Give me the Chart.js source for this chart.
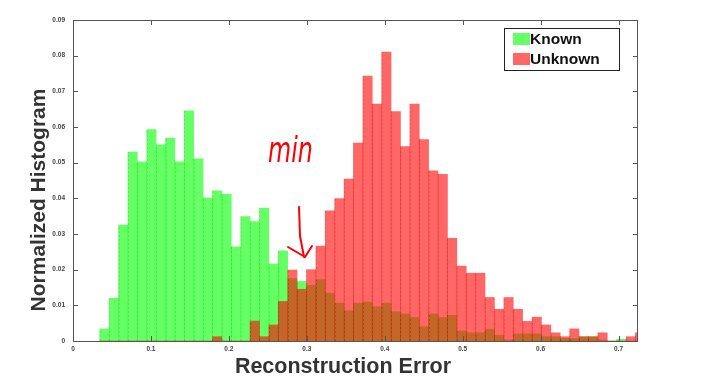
<!DOCTYPE html>
<html lang="en">
<head>
<meta charset="UTF-8">
<title>Reconstruction Error Histogram</title>
<script src="https://cdn.jsdelivr.net/npm/chart.js@4.4.1/dist/chart.umd.min.js"></script>
<style>
  html, body { margin: 0; padding: 0; background: #ffffff; }
  .chart-box { width: 710px; height: 376px; }
</style>
</head>
<body>
<div class="chart-box"><canvas id="histChart" width="710" height="376"></canvas></div>
<script>
// bin centres (reconstruction error), 58 bins
const binCenters = [
  0.0403, 0.0524, 0.0644, 0.0765, 0.0885, 0.1006, 0.1127, 0.1247, 0.1368, 0.1488,
  0.1609, 0.1730, 0.1850, 0.1971, 0.2091, 0.2212, 0.2333, 0.2453, 0.2574, 0.2694,
  0.2815, 0.2936, 0.3056, 0.3177, 0.3297, 0.3418, 0.3539, 0.3659, 0.3780, 0.3900,
  0.4021, 0.4142, 0.4262, 0.4383, 0.4503, 0.4624, 0.4745, 0.4865, 0.4986, 0.5106,
  0.5227, 0.5348, 0.5468, 0.5589, 0.5709, 0.5830, 0.5951, 0.6071, 0.6192, 0.6312,
  0.6433, 0.6554, 0.6674, 0.6795, 0.6915, 0.7036, 0.7157, 0.7277
];
const knownValues = [
  0.0034, 0.0120, 0.0325, 0.0530, 0.0502, 0.0593, 0.0550, 0.0569, 0.0502, 0.0645,
  0.0511, 0.0401, 0.0421, 0.0411, 0.0264, 0.0349, 0.0335, 0.0373, 0.0216, 0.0253,
  0.0175, 0.0167, 0.0156, 0.0172, 0.0134, 0.0106, 0.0085, 0.0106, 0.0109, 0.0096,
  0.0106, 0.0082, 0.0076, 0.0066, 0.0040, 0.0076, 0.0066, 0.0072, 0.0028, 0.0023,
  0.0023, 0.0033, 0.0016, 0.0003, 0.0020, 0.0020, 0.0020, 0.0012, 0.0012, 0.0007,
  0.0007, 0.0012, 0.0012, 0.0003, 0.0000, 0.0005, 0.0000, 0.0000
];
const unknownValues = [
  0.0000, 0.0000, 0.0000, 0.0000, 0.0000, 0.0000, 0.0000, 0.0000, 0.0000, 0.0000,
  0.0000, 0.0000, 0.0012, 0.0000, 0.0000, 0.0000, 0.0056, 0.0012, 0.0045, 0.0111,
  0.0199, 0.0145, 0.0200, 0.0266, 0.0365, 0.0399, 0.0454, 0.0555, 0.0743, 0.0664,
  0.0810, 0.0643, 0.0545, 0.0664, 0.0565, 0.0477, 0.0467, 0.0288, 0.0210, 0.0190,
  0.0190, 0.0122, 0.0089, 0.0122, 0.0089, 0.0055, 0.0067, 0.0045, 0.0023, 0.0012,
  0.0034, 0.0012, 0.0012, 0.0023, 0.0000, 0.0000, 0.0012, 0.0023
];
const xTickValues = [0, 0.1, 0.2, 0.3, 0.4, 0.5, 0.6, 0.7];
const yTickValues = [0, 0.01, 0.02, 0.03, 0.04, 0.05, 0.06, 0.07, 0.08, 0.09];

const FONT = '"Liberation Sans", Arial, sans-serif';

// box frame with inward ticks, axis titles, legend and the hand-written note
const framePlugin = {
  id: 'frame',
  afterDatasetsDraw(chart) {
    // faint dotted bin edges inside the bars
    const ctx = chart.ctx;
    ctx.save();
    ctx.setLineDash([2, 2]);
    ctx.lineWidth = 1;
    ctx.strokeStyle = 'rgba(0,0,0,0.10)';
    chart.getSortedVisibleDatasetMetas().forEach(meta => {
      meta.data.forEach(bar => {
        const p = bar.getProps(['x', 'y', 'base', 'width'], true);
        if (p.base - p.y < 2) return;
        const xl = Math.round(p.x - p.width / 2) + 0.5;
        ctx.beginPath();
        ctx.moveTo(xl, p.base);
        ctx.lineTo(xl, p.y);
        ctx.stroke();
      });
    });
    ctx.restore();
  },
  afterDraw(chart) {
    const ctx = chart.ctx;
    const a = chart.chartArea;
    const xs = chart.scales.x, ys = chart.scales.y;
    ctx.save();

    // box
    ctx.strokeStyle = '#555';
    ctx.lineWidth = 1;
    ctx.strokeRect(a.left + 0.5, a.top + 0.5, a.right - a.left - 1, a.bottom - a.top);

    // inward tick marks on all four sides
    ctx.beginPath();
    xs.ticks.forEach(t => {
      const x = Math.round(xs.getPixelForValue(t.value)) + 0.5;
      ctx.moveTo(x, a.bottom); ctx.lineTo(x, a.bottom - 5);
      ctx.moveTo(x, a.top); ctx.lineTo(x, a.top + 5);
    });
    ys.ticks.forEach(t => {
      const y = Math.round(ys.getPixelForValue(t.value)) + 0.5;
      ctx.moveTo(a.left, y); ctx.lineTo(a.left + 5, y);
      ctx.moveTo(a.right, y); ctx.lineTo(a.right - 5, y);
    });
    ctx.stroke();

    // axis titles
    ctx.fillStyle = '#333';
    ctx.font = 'bold 21.5px ' + FONT;
    ctx.textAlign = 'center';
    ctx.textBaseline = 'alphabetic';
    ctx.fillText('Reconstruction Error', 343, 373);
    ctx.save();
    ctx.translate(45, 200);
    ctx.rotate(-Math.PI / 2);
    ctx.font = 'bold 21px ' + FONT;
    ctx.fillText('Normalized Histogram', 0, 0);
    ctx.restore();

    // legend box
    ctx.fillStyle = '#fff';
    ctx.fillRect(504, 28, 115, 42);
    ctx.strokeStyle = '#222';
    ctx.strokeRect(504.5, 28.5, 115, 42);
    ctx.font = 'bold 15.5px ' + FONT;
    ctx.textAlign = 'left';
    ctx.textBaseline = 'middle';
    chart.data.datasets.forEach((ds, i) => {
      const y = 39 + i * 20;
      ctx.fillStyle = ds.legendColor;
      ctx.fillRect(513, y - 6, 17, 12);
      ctx.fillStyle = '#111';
      ctx.fillText(ds.label, 530, y + 1);
    });

    // hand-written note
    ctx.fillStyle = '#f00';
    ctx.font = 'italic 36px "DejaVu Sans", sans-serif';
    ctx.save();
    ctx.translate(268, 162);
    ctx.scale(0.66, 1);
    ctx.textBaseline = 'alphabetic';
    ctx.fillText('min', 0, 0);
    ctx.restore();

    ctx.strokeStyle = '#f00';
    ctx.lineWidth = 2;
    ctx.lineCap = 'round';
    ctx.lineJoin = 'round';
    ctx.beginPath();
    ctx.moveTo(299, 207);
    ctx.lineTo(300, 236);
    ctx.lineTo(304, 257);
    ctx.moveTo(288, 247);
    ctx.lineTo(305, 257);
    ctx.lineTo(312, 246);
    ctx.stroke();

    ctx.restore();
  }
};

const ctx = document.getElementById('histChart').getContext('2d');
const chart = new Chart(ctx, {
  type: 'bar',
  data: {
    datasets: [
      {
        label: 'Known',
        data: binCenters.map((x, i) => ({ x: x, y: knownValues[i] })),
        backgroundColor: 'rgba(0, 255, 0, 0.6)',
        legendColor: '#66ff66',
        order: 2
      },
      {
        label: 'Unknown',
        data: binCenters.map((x, i) => ({ x: x, y: unknownValues[i] })),
        backgroundColor: 'rgba(255, 0, 0, 0.6)',
        legendColor: '#ff6666',
        order: 1
      }
    ]
  },
  options: {
    responsive: false,
    animation: false,
    devicePixelRatio: 1,
    layout: { padding: { left: 0, right: 72, top: 20, bottom: 0 } },
    datasets: {
      bar: {
        grouped: false,
        barPercentage: 1,
        categoryPercentage: 1,
        borderWidth: 0
      }
    },
    scales: {
      x: {
        type: 'linear',
        min: 0,
        max: 0.725,
        offset: false,
        grid: { display: false, drawTicks: false },
        border: { display: false },
        afterBuildTicks: s => { s.ticks = xTickValues.map(v => ({ value: v })); },
        afterFit: s => { s.height = 35; },
        ticks: {
          padding: 4,
          maxRotation: 0,
          color: '#444',
          font: { family: FONT, size: 6.5, weight: 'bold' }
        }
      },
      y: {
        min: 0,
        max: 0.09,
        grid: { display: false, drawTicks: false },
        border: { display: false },
        afterBuildTicks: s => { s.ticks = yTickValues.map(v => ({ value: v })); },
        afterFit: s => { s.width = 73; },
        ticks: {
          padding: 8,
          color: '#444',
          font: { family: FONT, size: 6.5, weight: 'bold' }
        }
      }
    },
    plugins: {
      legend: { display: false },
      tooltip: { enabled: false }
    }
  },
  plugins: [framePlugin]
});
</script>
</body>
</html>
